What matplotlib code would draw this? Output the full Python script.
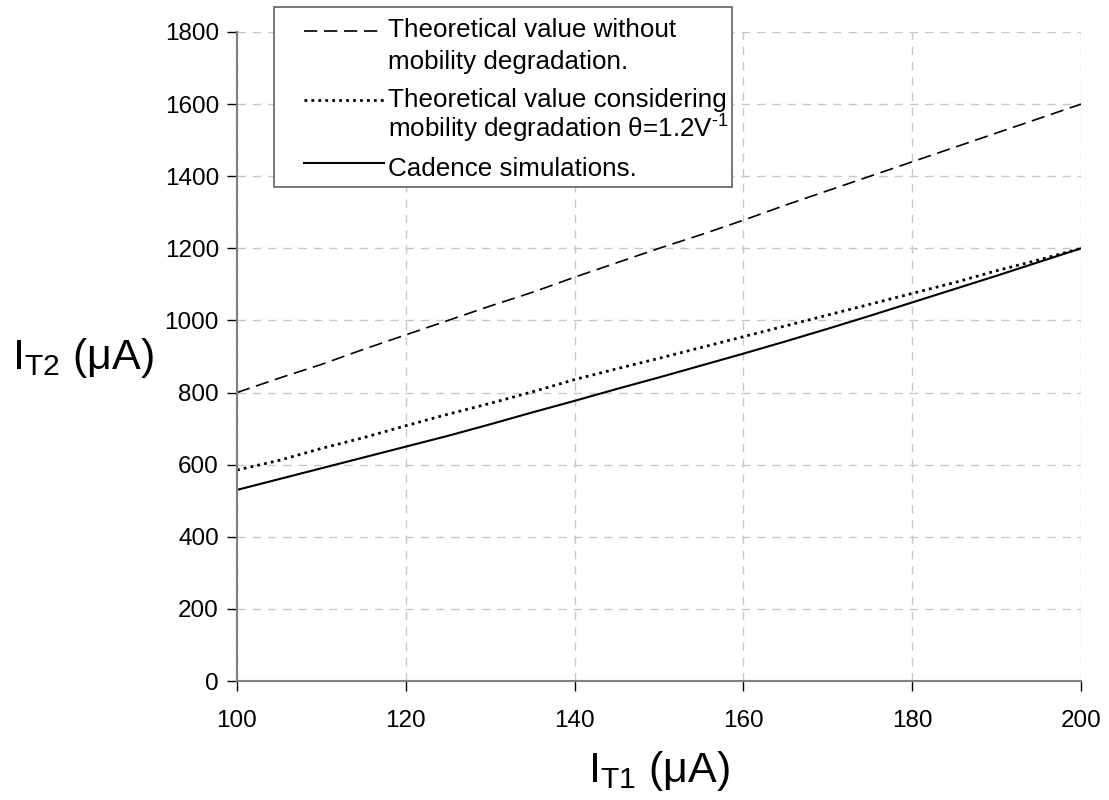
import matplotlib
matplotlib.use("Agg")
import matplotlib.pyplot as plt
from matplotlib.lines import Line2D
from matplotlib.patches import Rectangle

plt.rcParams['font.family'] = ['Liberation Sans', 'DejaVu Sans']
plt.rcParams['mathtext.fontset'] = 'custom'
plt.rcParams['mathtext.rm'] = 'Liberation Sans'
plt.rcParams['mathtext.it'] = 'Liberation Sans:italic'

# Daten
i_t1 = [100, 105, 110, 115, 120, 125, 130, 135, 140, 145, 150,
        155, 160, 165, 170, 175, 180, 185, 190, 195, 200]
ohne_deg = [800, 840, 878, 920, 960, 1000, 1040, 1078, 1120, 1160, 1200,
            1238, 1278, 1320, 1360, 1400, 1440, 1480, 1520, 1560, 1600]
mit_deg = [585, 612, 645, 675, 708, 740, 770, 802, 836, 866, 895,
           925, 955, 985, 1015, 1045, 1075, 1105, 1138, 1168, 1200]
cadence = [530, 560, 590, 620, 650, 680, 712, 745, 777, 810, 842,
           875, 908, 942, 977, 1013, 1050, 1087, 1124, 1162, 1200]

# Legendentexte, zeilenweise
labels = [['Theoretical value without', 'mobility degradation.'],
          ['Theoretical value considering',
           'mobility degradation θ=1.2V$^{\\text{-1}}$'],
          ['Cadence simulations.']]

fig = plt.figure(figsize=(11.09, 8), dpi=100)
ax = fig.add_axes([0.2137, 0.14875, 0.7611, 0.81125])

ax.plot(i_t1, ohne_deg, color='black', lw=1.2, dashes=(8, 4))
ax.plot(i_t1, mit_deg, color='black', lw=2.0, dashes=(1, 1.5))
ax.plot(i_t1, cadence, color='black', lw=1.5)

ax.set_xlim(100, 200)
ax.set_ylim(0, 1800)
ax.set_xticks(range(100, 201, 20))
ax.set_yticks(range(0, 1801, 200))
ax.grid(True, color='#c8c8c8', linestyle=(0, (6, 5)), lw=1)
ax.set_axisbelow(True)
for s in ['top', 'right']:
    ax.spines[s].set_visible(False)
for s in ['left', 'bottom']:
    ax.spines[s].set_color('#808080')
    ax.spines[s].set_linewidth(1.5)
ax.tick_params(direction='out', length=7, width=1, colors='black', labelsize=17.5)
ax.tick_params(axis='y', pad=6)
ax.tick_params(axis='x', pad=14)

ax.set_xlabel('I$_{\\mathregular{T1}}$ (μA)', fontsize=31, labelpad=12)
ax.set_ylabel('I$_{\\mathregular{T2}}$ (μA)', fontsize=31, rotation=0,
              ha='left', va='center')
ax.yaxis.set_label_coords(-0.266, 0.497)

# Legende von Hand (Linien an der ersten Zeile ausgerichtet)
W, H = 1109.0, 800.0
fig.patches.append(Rectangle((274 / W, 1 - 187 / H), (732 - 274) / W, (187 - 7) / H,
                             transform=fig.transFigure, facecolor='white',
                             edgecolor='#606060', lw=1.2, zorder=5))
stile = [dict(lw=1.2, dashes=(8, 4)), dict(lw=2.0, dashes=(1, 1.5)), dict(lw=1.5)]
linie_y = [31, 100, 163]
zeilen_y = [[37, 69], [107, 138], [176]]
for lab, st, ly, zy in zip(labels, stile, linie_y, zeilen_y):
    fig.lines.append(Line2D([304 / W, 384 / W], [1 - ly / H, 1 - ly / H],
                            transform=fig.transFigure, color='black', zorder=6, **st))
    for txt, yy in zip(lab, zy):
        fig.text(388 / W, 1 - yy / H, txt, fontsize=18.7, va='baseline', ha='left',
                 zorder=6)

fig.savefig('out.png', dpi=100)
